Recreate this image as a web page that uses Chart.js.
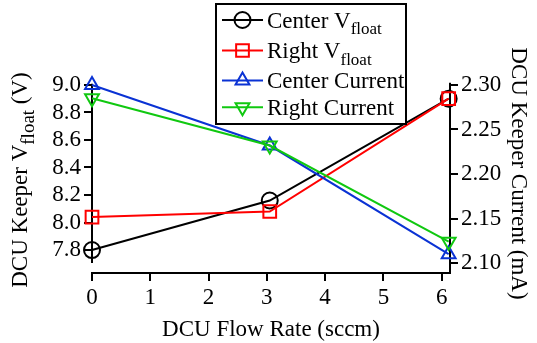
<!DOCTYPE html>
<html>
<head>
<meta charset="utf-8">
<script src="https://cdn.jsdelivr.net/npm/chart.js@4/dist/chart.umd.min.js"></script>
<style>
  html, body { margin: 0; padding: 0; background: #ffffff; font-family: "Liberation Serif", serif; }
  canvas { display: block; }
</style>
</head>
<body>
<canvas id="chart" width="537" height="343"></canvas>
<script>
// DCU flow rate sweep: keeper floating voltage and keeper current
const flowRates     = [0, 3.05, 6.12];            // sccm
const centerVfloat  = [7.80, 8.16, 8.90];         // V
const rightVfloat   = [8.04, 8.08, 8.90];         // V
const centerCurrent = [2.300, 2.232, 2.110];      // mA
const rightCurrent  = [2.285, 2.232, 2.124];      // mA

const seriesLabels = ['Center V_{float}', 'Right V_{float}', 'Center Current', 'Right Current'];
const xTicks = [0, 1, 2, 3, 4, 5, 6];
const vTicks = [7.8, 8.0, 8.2, 8.4, 8.6, 8.8, 9.0];
const iTicks = [2.10, 2.15, 2.20, 2.25, 2.30];

const xTitle = 'DCU Flow Rate (sccm)';
const vTitle = 'DCU Keeper V_{float} (V)';
const iTitle = 'DCU Keeper Current (mA)';

const SERIF = '"Liberation Serif", serif';
const FONT_SIZE = 23;
const SUB_SIZE = 17;
const font = { family: SERIF, size: FONT_SIZE };

function points(ys) {
  return flowRates.map((x, i) => ({ x: x, y: ys[i] }));
}

function series(label, ys, color, style, rotation, axis, order) {
  return {
    label: label,
    data: points(ys),
    yAxisID: axis,
    borderColor: color,
    backgroundColor: 'rgba(0,0,0,0)',
    borderWidth: 2,
    pointStyle: style,
    pointRotation: rotation,
    pointRadius: style === 'rect' ? 9 : 8,
    pointBorderWidth: 2,
    pointBorderColor: color,
    pointBackgroundColor: 'rgba(0,0,0,0)',
    tension: 0,
    clip: false,
    order: order
  };
}

// Text with "_{...}" parts set as subscripts.
function richSegments(text) {
  const segs = [];
  const re = /_\{([^}]*)\}/g;
  let last = 0, m;
  while ((m = re.exec(text)) !== null) {
    if (m.index > last) segs.push({ t: text.slice(last, m.index), sub: false });
    segs.push({ t: m[1], sub: true });
    last = re.lastIndex;
  }
  if (last < text.length) segs.push({ t: text.slice(last), sub: false });
  return segs;
}
function richWidth(ctx, text, subSize) {
  let w = 0;
  for (const s of richSegments(text)) {
    ctx.font = (s.sub ? subSize : FONT_SIZE) + 'px ' + SERIF;
    w += ctx.measureText(s.t).width;
  }
  return w;
}
function drawRich(ctx, text, x, y, subSize, subDrop) {
  let cx = x;
  ctx.textAlign = 'left';
  ctx.textBaseline = 'alphabetic';
  for (const s of richSegments(text)) {
    ctx.font = (s.sub ? subSize : FONT_SIZE) + 'px ' + SERIF;
    ctx.fillText(s.t, cx, s.sub ? y + subDrop : y);
    cx += ctx.measureText(s.t).width;
  }
}

const frame = {
  id: 'frame',
  beforeDatasetsDraw(chart) {
    const ctx = chart.ctx;
    const { x, yV, yI } = chart.scales;
    ctx.save();
    ctx.strokeStyle = '#000';
    ctx.lineWidth = 2;
    ctx.lineCap = 'butt';
    ctx.beginPath();
    // bottom axis
    const yb = chart.chartArea.bottom;
    ctx.moveTo(x.getPixelForValue(0) - 1, yb);
    ctx.lineTo(chart.chartArea.right, yb);
    // left axis (offset from the bottom axis)
    const xl = chart.chartArea.left;
    ctx.moveTo(xl, yV.getPixelForValue(7.705));
    ctx.lineTo(xl, yV.getPixelForValue(9.008));
    // right axis
    const xr = chart.chartArea.right;
    ctx.moveTo(xr, yb + 1);
    ctx.lineTo(xr, yI.getPixelForValue(2.3025));
    ctx.stroke();
    ctx.restore();
  },
  afterDraw(chart) {
    const ctx = chart.ctx;
    const area = chart.chartArea;
    ctx.save();
    ctx.fillStyle = '#000';

    // x title
    ctx.font = FONT_SIZE + 'px ' + SERIF;
    ctx.textAlign = 'center';
    ctx.textBaseline = 'alphabetic';
    ctx.fillText(xTitle, (area.left + area.right) / 2, 336);

    // left title, rotated counter-clockwise
    ctx.save();
    const vw = richWidth(ctx, vTitle, 19);
    ctx.translate(27, 180);
    ctx.rotate(-Math.PI / 2);
    drawRich(ctx, vTitle, -vw / 2, 0, 19, 7);
    ctx.restore();

    // right title, rotated clockwise
    ctx.save();
    ctx.translate(512, 173.5);
    ctx.rotate(Math.PI / 2);
    ctx.font = FONT_SIZE + 'px ' + SERIF;
    ctx.textAlign = 'center';
    ctx.textBaseline = 'alphabetic';
    ctx.fillText(iTitle, 0, 0);
    ctx.restore();

    // legend
    const bx = 216, by = 4, bw = 190, bh = 120;
    ctx.fillStyle = '#fff';
    ctx.fillRect(bx, by, bw, bh);
    ctx.strokeStyle = '#000';
    ctx.lineWidth = 2;
    ctx.strokeRect(bx, by, bw, bh);
    const rowY = [20, 50.5, 80.5, 107.3];
    chart.data.datasets.forEach((ds, i) => {
      const y = rowY[i];
      ctx.strokeStyle = ds.borderColor;
      ctx.lineWidth = 2;
      ctx.beginPath();
      ctx.moveTo(222, y);
      ctx.lineTo(263, y);
      ctx.stroke();
      ctx.fillStyle = 'rgba(0,0,0,0)';
      Chart.helpers.drawPoint(ctx, {
        pointStyle: ds.pointStyle,
        rotation: ds.pointRotation,
        radius: ds.pointRadius,
        borderWidth: 2
      }, 242.5, y);
      ctx.fillStyle = '#000';
      drawRich(ctx, seriesLabels[i], 267, y + 7.5, SUB_SIZE, 6.5);
    });
    ctx.restore();
  }
};

const tickGrid = {
  display: true,
  drawOnChartArea: false,
  drawTicks: true,
  tickLength: 8,
  tickWidth: 2,
  tickColor: '#000',
  color: '#000',
  lineWidth: 2
};

Chart.defaults.font.family = SERIF;

const chart = new Chart(document.getElementById('chart'), {
  type: 'line',
  data: {
    datasets: [
      series(seriesLabels[0], centerVfloat,  '#000000', 'circle',   0,   'yV', 3),
      series(seriesLabels[1], rightVfloat,   '#ff0000', 'rect',     0,   'yV', 2),
      series(seriesLabels[2], centerCurrent, '#0a32d4', 'triangle', 0,   'yI', 1),
      series(seriesLabels[3], rightCurrent,  '#10c810', 'triangle', 180, 'yI', 0)
    ]
  },
  options: {
    responsive: false,
    animation: false,
    events: [],
    devicePixelRatio: 1,
    layout: { padding: { top: 80, left: 0, right: 0, bottom: 0 } },
    plugins: {
      legend: { display: false },
      tooltip: { enabled: false },
      title: { display: false }
    },
    scales: {
      x: {
        type: 'linear',
        position: 'bottom',
        min: 0,
        max: 6.143,
        afterFit(s) { s.height = 70; },
        afterBuildTicks(s) { s.ticks = xTicks.map(v => ({ value: v })); },
        grid: tickGrid,
        border: { display: false },
        ticks: { color: '#000', font: font, padding: 3, maxRotation: 0, autoSkip: false,
                 callback: v => String(v) }
      },
      yV: {
        type: 'linear',
        position: 'left',
        min: 7.633,
        max: 9.036,
        afterFit(s) { s.width = 92; },
        afterBuildTicks(s) { s.ticks = vTicks.map(v => ({ value: v })); },
        grid: tickGrid,
        border: { display: false },
        ticks: { color: '#000', font: font, padding: 3, autoSkip: false,
                 callback: v => Number(v).toFixed(1) }
      },
      yI: {
        type: 'linear',
        position: 'right',
        min: 2.0888,
        max: 2.3056,
        afterFit(s) { s.width = 87; },
        afterBuildTicks(s) { s.ticks = iTicks.map(v => ({ value: v })); },
        grid: tickGrid,
        border: { display: false },
        ticks: { color: '#000', font: font, padding: 3, autoSkip: false,
                 callback: v => Number(v).toFixed(2) }
      }
    }
  },
  plugins: [frame]
});

window.addEventListener('load', () => chart.update('none'));
</script>
</body>
</html>
